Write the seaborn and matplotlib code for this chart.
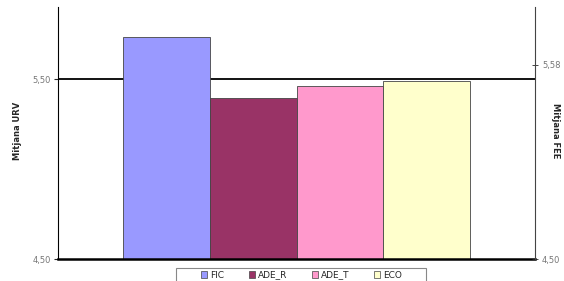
import matplotlib
matplotlib.use("Agg")
import matplotlib.pyplot as plt
import seaborn as sns
import pandas as pd
from matplotlib.ticker import FuncFormatter
from matplotlib.patches import Patch, Rectangle

series = ["FIC", "ADE_R", "ADE_T", "ECO"]
values = [5.733, 5.394, 5.461, 5.489]
colors = ["#9999FF", "#993366", "#FF99CC", "#FFFFCC"]
left_ticks = [4.50, 5.50]
right_ticks = [4.50, 5.58]

sns.set_style("white")
plt.rcParams['font.family'] = ['DejaVu Sans']

df = pd.DataFrame({"grup": ["A"] * len(series), "serie": series, "valor": values})

fig = plt.figure(figsize=(5.64, 2.81), dpi=100)
ax = fig.add_axes([58 / 564, 1 - 259 / 281, (535 - 58) / 564, (259 - 7) / 281])

ax.axhline(5.50, color="black", lw=1.3, zorder=0)
sns.barplot(data=df, x="grup", y="valor", hue="serie", palette=colors,
            saturation=1, width=0.727, gap=0, dodge=True, ax=ax,
            edgecolor="#444444", linewidth=0.6, legend=False, zorder=2)
ax.set_xlim(-0.5, 0.5)
ax.set_ylim(4.5, 5.9)
ax.set_xticks([])
ax.set_xlabel("")
ax.set_yticks(left_ticks)
fmt = FuncFormatter(lambda v, p: f"{v:.2f}".replace(".", ","))
ax.yaxis.set_major_formatter(fmt)
ax.tick_params(axis="y", labelsize=6, labelcolor="#777777", length=3, width=0.8,
               direction="out", left=True, pad=2)
ax.set_ylabel("Mitjana URV", fontsize=6, fontweight="bold")
ax.yaxis.set_label_coords(-0.075, 0.51)
ax.spines["top"].set_visible(False)
ax.spines["left"].set_color("black")
ax.spines["left"].set_linewidth(0.8)
ax.spines["bottom"].set_color("black")
ax.spines["bottom"].set_linewidth(1.8)
ax.spines["right"].set_visible(False)

ax2 = ax.twinx()
ax2.set_ylim(4.5, 5.9)
ax2.set_yticks(right_ticks)
ax2.yaxis.set_major_formatter(fmt)
ax2.tick_params(axis="y", labelsize=6, labelcolor="#777777", length=4, width=0.6,
                direction="inout", right=True, pad=3)
ax2.set_ylabel("Mitjana FEE", fontsize=6, fontweight="bold", rotation=270)
ax2.yaxis.set_label_coords(1.053, 0.51)
for s in ["top", "left", "bottom"]:
    ax2.spines[s].set_visible(False)
ax2.spines["right"].set_color("#444444")
ax2.spines["right"].set_linewidth(0.8)

# legend frame (cut off at the bottom edge, as in the reference)
fig.patches.append(Rectangle((176 / 564, -0.05), 250 / 564, 0.05 + (281 - 268) / 281,
                             transform=fig.transFigure, facecolor="white",
                             edgecolor="#888888", linewidth=0.8, zorder=5))

handles = [Patch(facecolor=c, edgecolor="#444444", linewidth=0.5) for c in colors]
leg = fig.legend(handles, series, loc="center left",
                 bbox_to_anchor=(201 / 564, 1 - 275 / 281, 201 / 564, 0.0),
                 mode="expand", ncol=4, fontsize=6.5, frameon=False,
                 handlelength=0.7, handleheight=0.7,
                 handletextpad=0.3, borderpad=0, borderaxespad=0)
leg.set_zorder(6)

fig.savefig("out.png", dpi=100)
